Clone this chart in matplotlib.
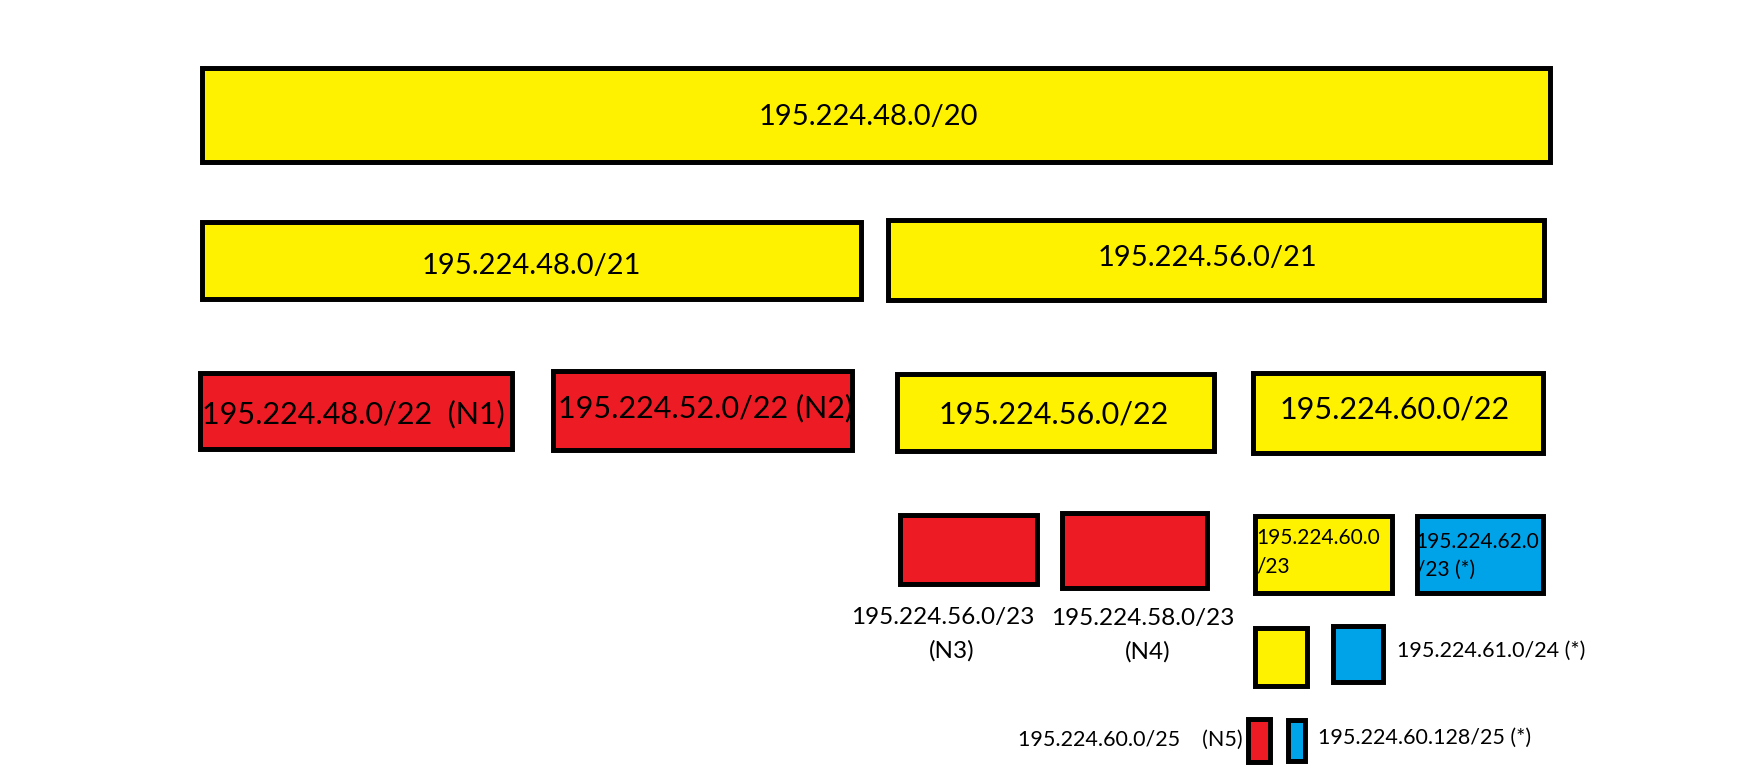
"""Subnet split diagram of 195.224.48.0/20 (boxes drawn in pixel-like coordinates)."""

import matplotlib

matplotlib.use("Agg")

import matplotlib.pyplot as plt  # noqa: E402
from matplotlib.patches import Rectangle  # noqa: E402

# canvas in reference units (reference read at 1560 px width)
W = 1560.0
H = W * 772 / 1757

COLORS = {"y": "#FFF200", "r": "#ED1C24", "b": "#00A2E8"}

# boxes: outer edges (left, right, top, bottom) and fill
box_edges = [
    (177, 1378, 58, 146),
    (177, 767, 195, 268),
    (786, 1373, 193, 269),
    (175, 457, 329, 401),
    (489, 759, 327, 402),
    (794, 1080, 330, 403),
    (1110, 1372, 329, 404),
    (797, 923, 455, 521),
    (941, 1074, 453, 524),
    (1112, 1238, 456, 529),
    (1256, 1372, 456, 529),
    (1112, 1163, 555, 611),
    (1181, 1230, 554, 608),
    (1106, 1130, 636, 679),
    (1141, 1161, 637, 678),
]
box_fill = ["y", "y", "y", "r", "r", "y", "y", "r", "r", "y", "b", "y", "b", "r", "b"]

# labels: text, anchor x, anchor y, horizontal alignment, size (pt)
labels = [
    ("195.224.48.0/20", 771, 104, "center", 21),
    ("195.224.48.0/21", 472, 236, "center", 21),
    ("195.224.56.0/21", 1072, 229, "center", 21),
    ("195.224.48.0/22  (N1)", 179, 368, "left", 22),
    ("195.224.52.0/22 (N2)", 495, 362, "left", 22),
    ("195.224.56.0/22", 833, 368, "left", 22),
    ("195.224.60.0/22", 1136, 364, "left", 22),
    ("195.224.60.0", 1115, 478, "left", 15),
    ("/23", 1115, 503, "left", 15),
    ("195.224.62.0", 1257, 481, "left", 15),
    ("/23 (*)", 1257, 506, "left", 15),
    ("195.224.56.0/23", 837, 548, "center", 17.5),
    ("(N3)", 845, 578, "center", 17.5),
    ("195.224.58.0/23", 1015, 549, "center", 17.5),
    ("(N4)", 1019, 579, "center", 17.5),
    ("195.224.61.0/24 (*)", 1240, 578, "left", 15.5),
    ("195.224.60.0/25    (N5)", 904, 657, "left", 15.5),
    ("195.224.60.128/25 (*)", 1170, 655, "left", 15.5),
]

BORDER = 4.4  # outline width in reference units

fig = plt.figure(figsize=(17.57, 7.72), dpi=100)
ax = fig.add_axes([0, 0, 1, 1])
ax.set_xlim(0, W)
ax.set_ylim(H, 0)
ax.axis("off")

lw_pt = BORDER * (1757 / W) * 72 / 100
for (x0, x1, y0, y1), fill in zip(box_edges, box_fill):
    h = BORDER / 2
    ax.add_patch(Rectangle((x0 + h, y0 + h), x1 - x0 - BORDER, y1 - y0 - BORDER,
                           facecolor=COLORS[fill], edgecolor="black", lw=lw_pt,
                           joinstyle="miter"))

for text, x, y, ha, size in labels:
    ax.text(x, y, text, ha=ha, va="center", fontsize=size, family=["Lato", "DejaVu Sans"],
            color="black")

fig.savefig("out.png", dpi=100, facecolor="white")
